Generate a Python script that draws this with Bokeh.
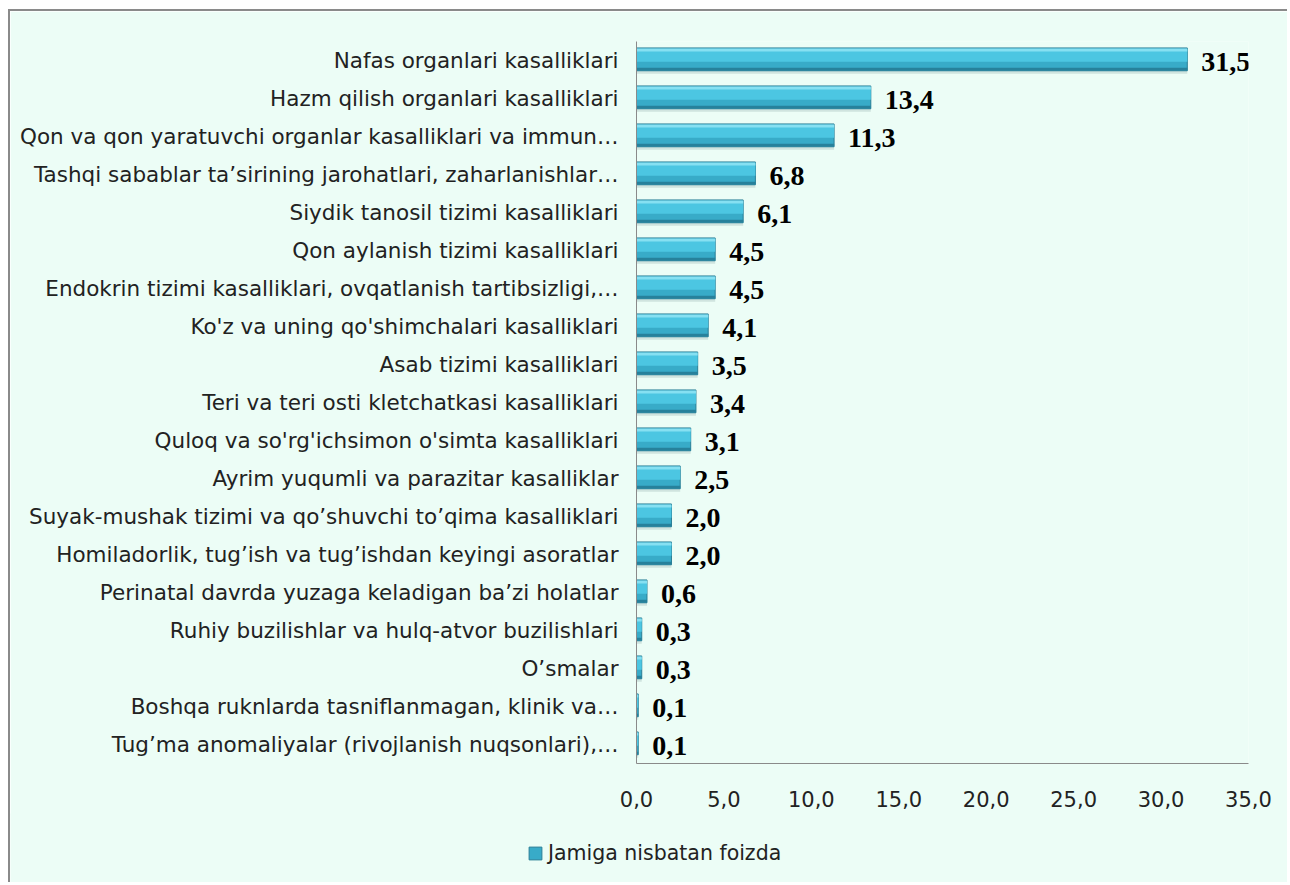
from bokeh.plotting import figure
from bokeh.models import (FactorRange, Range1d, SingleIntervalTicker, CustomJSTickFormatter,
                          ColumnDataSource, Legend, LegendItem)
from bokeh.transform import dodge
from bokeh.core.properties import value
from bokeh.embed import file_html
from bokeh.resources import INLINE

categories = [
    "Nafas organlari kasalliklari",
    "Hazm qilish organlari kasalliklari",
    "Qon va qon yaratuvchi organlar kasalliklari va immun…",
    "Tashqi sabablar ta’sirining jarohatlari, zaharlanishlar…",
    "Siydik tanosil tizimi kasalliklari",
    "Qon aylanish tizimi kasalliklari",
    "Endokrin tizimi kasalliklari, ovqatlanish tartibsizligi,…",
    "Ko'z va uning qo'shimchalari kasalliklari",
    "Asab tizimi kasalliklari",
    "Teri va teri osti kletchatkasi kasalliklari",
    "Quloq va so'rg'ichsimon o'simta kasalliklari",
    "Ayrim yuqumli va parazitar kasalliklar",
    "Suyak-mushak tizimi va qo’shuvchi to’qima kasalliklari",
    "Homiladorlik, tug’ish va tug’ishdan keyingi asoratlar",
    "Perinatal davrda yuzaga keladigan ba’zi holatlar",
    "Ruhiy buzilishlar va hulq-atvor buzilishlari",
    "O’smalar",
    "Boshqa ruknlarda tasniflanmagan, klinik va…",
    "Tug’ma anomaliyalar (rivojlanish nuqsonlari),…",
]
values = [31.5, 13.4, 11.3, 6.8, 6.1, 4.5, 4.5, 4.1, 3.5, 3.4, 3.1, 2.5, 2.0, 2.0, 0.6, 0.3, 0.3, 0.1, 0.1]
series_name = "Jamiga nisbatan foizda"
x_ticks_interval = 5
x_max = 35

labels = [f"{v:.1f}".replace(".", ",") for v in values]
src = ColumnDataSource(dict(cat=categories, val=values, lab=labels))

FONT = "DejaVu Sans"
FSIZE = "21.5px"
BG = "#ECFDF6"
BAR = "#38ABC8"
BORDER = "2px solid #8a8a8a"

p = figure(width=1279, height=806, output_backend="svg", toolbar_location=None,
           y_range=FactorRange(factors=list(reversed(categories))),
           x_range=Range1d(0, x_max),
           min_border_left=626, min_border_right=41, min_border_top=30, min_border_bottom=54,
           background_fill_color=BG, border_fill_color=BG)
p.styles = {"margin-left": "8px", "margin-top": "9px",
            "border-left": BORDER, "border-top": BORDER}
p.outline_line_color = None
p.grid.visible = False

# shadow
p.hbar(y=dodge("cat", -0.05, range=p.y_range), left=0, right="val", height=0.6, source=src,
       fill_color="#7a9a9a", fill_alpha=0.25, line_color=None)
main = p.hbar(y=dodge("cat", 0.03, range=p.y_range), left=0, right="val", height=0.6, source=src,
              fill_color=BAR, line_color="#2A7F97", line_width=1)
p.hbar(y=dodge("cat", 0.13, range=p.y_range), left=0, right="val", height=0.32, source=src,
       fill_color="#4CC6E2", line_color=None)
p.hbar(y=dodge("cat", 0.275, range=p.y_range), left=0, right="val", height=0.08, source=src,
       fill_color="#86E0F2", line_color=None)
p.hbar(y=dodge("cat", -0.225, range=p.y_range), left=0, right="val", height=0.07, source=src,
       fill_color="#27819B", line_color=None)

p.text(x="val", y="cat", text="lab", source=src, x_offset=14, y_offset=1, text_baseline="middle",
       text_align="left", text_font=value("Liberation Serif"), text_font_style="bold",
       text_font_size="28px", text_color="#000000")

# axes
xa = p.xaxis[0]
xa.ticker = SingleIntervalTicker(interval=x_ticks_interval)
xa.formatter = CustomJSTickFormatter(code="return tick.toFixed(1).replace('.', ',');")
xa.major_tick_line_color = None
xa.minor_tick_line_color = None
xa.axis_line_color = "#8a8a8a"
xa.major_label_standoff = 21
xa.major_label_text_font = FONT
xa.major_label_text_font_size = "21px"
xa.major_label_text_color = "#222222"

ya = p.yaxis[0]
ya.major_tick_line_color = None
ya.minor_tick_line_color = None
ya.axis_line_color = "#8a8a8a"
ya.major_label_standoff = 12
ya.major_label_text_font = FONT
ya.major_label_text_font_size = FSIZE
ya.major_label_text_color = "#222222"

# legend strip below the chart (separate root, so no frame alignment)
leg = figure(width=1279, height=69, output_backend="svg", toolbar_location=None,
             x_range=Range1d(0, 1), y_range=Range1d(0, 1),
             min_border=0, background_fill_color=BG, border_fill_color=BG)
leg.styles = {"margin-left": "8px", "margin-top": "-2px", "border-left": BORDER}
leg.axis.visible = False
leg.grid.visible = False
leg.outline_line_color = None
# key renderer for the legend swatch (kept outside the visible range of this strip)
key = leg.hbar(y=[-5], left=[0], right=[values[0]], height=0.5, fill_color=BAR, line_color="#2A7F97")
legend = Legend(items=[LegendItem(label=series_name, renderers=[key])],
                location=(517, 17), orientation="horizontal",
                background_fill_alpha=0, border_line_color=None,
                padding=0, margin=0, glyph_width=16, glyph_height=16, label_standoff=5,
                label_text_font=FONT, label_text_font_size="20.5px", label_text_color="#222222")
leg.add_layout(legend, "center")

open("out.html", "w").write(file_html([p, leg], INLINE))
